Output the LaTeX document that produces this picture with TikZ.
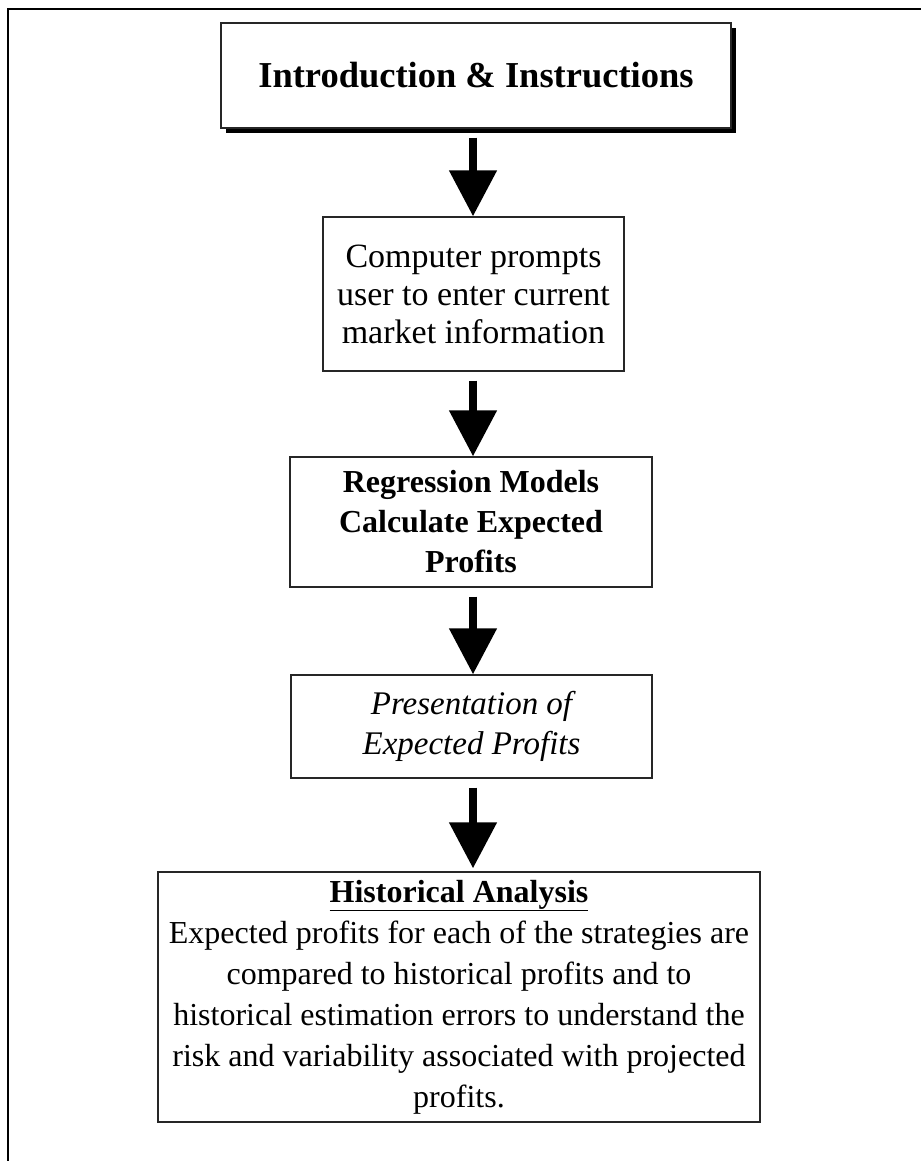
\documentclass[tikz,border=0pt]{standalone}
\usepackage{fontspec}
\setmainfont{Liberation Serif}
\usepackage{tikz}
\usetikzlibrary{arrows.meta, shadows, positioning, calc}

\begin{document}
\begin{tikzpicture}[x=1pt, y=-1pt,
        box/.style={draw=black!85, line width=1.3pt, fill=white, align=center, inner sep=0pt},
        flow/.style={line width=8pt, -{Triangle[length=46pt, width=46pt]}, shorten <=9pt}]
        \useasboundingbox (0,0) rectangle (921,1161);
        \draw[line width=2pt] (8,1161) -- (8,9) -- (921,9);
        \coordinate (axis) at (473,0);

        \node[box, minimum width=510pt, minimum height=105pt,
            drop shadow={shadow xshift=5pt, shadow yshift=-5pt, opacity=1, fill=black},
            font=\fontsize{36.5}{44}\selectfont\bfseries] (intro) at (476,75.5)
            {Introduction \& Instructions};

        \node[box, minimum width=301pt, minimum height=154pt,
            font=\fontsize{34}{38}\selectfont] (prompt) at (473.5,294)
            {Computer prompts\\ user to enter current\\ market information};

        \node[box, minimum width=362pt, minimum height=130pt,
            font=\fontsize{32}{40}\selectfont\bfseries] (regress) at (471,522)
            {Regression Models\\ Calculate Expected\\ Profits};

        \node[box, minimum width=361pt, minimum height=103pt,
            font=\fontsize{33}{40}\selectfont\itshape] (present) at (471.5,726.5)
            {Presentation of\\ Expected Profits};

        \node[box, minimum width=602pt, minimum height=250pt,
            font=\fontsize{32}{41}\selectfont] (hist) at (459,997)
            {\textbf{\underline{Historical Analysis}}\\
            Expected profits for each of the strategies are\\
            compared to historical profits and to\\
            historical estimation errors to understand the\\
            risk and variability associated with projected\\
            profits.};

        \draw[flow] (intro.south-|axis) -- (prompt.north-|axis);
        \draw[flow] (prompt.south-|axis) -- (regress.north-|axis);
        \draw[flow] (regress.south-|axis) -- (present.north-|axis);
        \draw[flow, shorten >=3pt] (present.south-|axis) -- (hist.north-|axis);
        %\draw[flow] (hist.south-|axis) -- ++(0,40);
    \end{tikzpicture}
\end{document}
